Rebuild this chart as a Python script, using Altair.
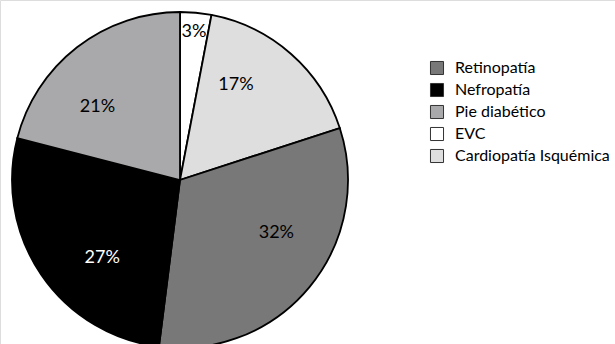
import altair as alt
import pandas as pd

# Slices in drawing order (clockwise from 12 o'clock)
categories = ["EVC", "Cardiopatía Isquémica", "Retinopatía", "Nefropatía", "Pie diabético"]
values = [3, 17, 32, 27, 21]
labels = ["3%", "17%", "32%", "27%", "21%"]

legend_order = ["Retinopatía", "Nefropatía", "Pie diabético", "EVC", "Cardiopatía Isquémica"]
legend_colors = ["#787878", "#000000", "#a9a9ab", "#ffffff", "#dedede"]
label_colors = ["black", "black", "black", "white", "black"]

df = pd.DataFrame({
    "cat": categories,
    "val": values,
    "lab": labels,
    "ord": list(range(len(categories))),
    "tcol": label_colors,
})

FONT = "Lato"

base = alt.Chart(df).encode(
    theta=alt.Theta("val:Q", stack=True),
    order=alt.Order("ord:Q"),
    x=alt.value(180),
    y=alt.value(180),
)

arcs = base.mark_arc(outerRadius=168, stroke="black", strokeWidth=1.8).encode(
    color=alt.Color(
        "cat:N",
        scale=alt.Scale(domain=legend_order, range=legend_colors),
        legend=alt.Legend(
            title=None,
            orient="none",
            legendX=429,
            legendY=60,
            symbolType="square",
            symbolSize=170,
            symbolStrokeColor="#333333",
            symbolStrokeWidth=1,
            labelFont=FONT,
            labelFontSize=16,
            labelColor="black",
            labelOffset=10,
            rowPadding=4,
            padding=0,
            labelLimit=300,
        ),
    )
)

text_big = base.mark_text(radius=110, font=FONT, fontSize=18).encode(
    text="lab:N",
    color=alt.Color("tcol:N", scale=None),
).transform_filter("datum.val >= 10")

text_small = base.mark_text(radius=149, font=FONT, fontSize=18).encode(
    text="lab:N",
    color=alt.Color("tcol:N", scale=None),
).transform_filter("datum.val < 10")

chart = alt.layer(arcs, text_big, text_small).properties(
    width=615,
    height=344,
    autosize=alt.AutoSizeParams(type="none"),
    padding=0,
).configure_view(stroke=None).configure(background="white")

chart.save("out.html", embed_options={"renderer": "svg", "actions": False})
